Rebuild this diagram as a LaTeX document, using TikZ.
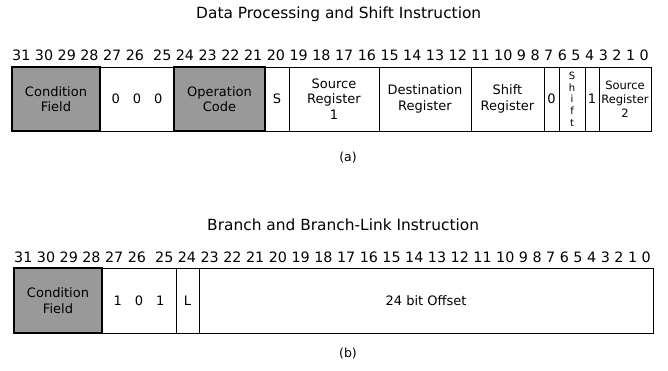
\documentclass[tikz,border=0pt]{standalone}
\usepackage{fontspec}
\setmainfont{DejaVu Sans}
\begin{document}
\begin{tikzpicture}[x=1pt,y=1pt,
  fld/.style={draw=black, line width=0.8pt, fill=white, minimum height=64pt, inner sep=0pt, align=center,
    font=\fontsize{13}{15.5}\selectfont},
  grayfld/.style={fld, fill=gray!80, line width=1.3pt},
  bfld/.style={fld, minimum height=65pt},
  bgrayfld/.style={grayfld, minimum height=65pt},
  bits/.style={anchor=west, inner sep=0pt, font=\fontsize{14.3}{16}\selectfont},
  ttl/.style={anchor=west, inner sep=0pt, font=\fontsize{15.4}{18}\selectfont},
  captxt/.style={inner sep=0pt, font=\fontsize{12.5}{14}\selectfont}]
\useasboundingbox (0,0) rectangle (668,370);
% ---------- (a) ----------
\node[ttl] (t1) at (196,356) {Data Processing and Shift Instruction};
\node[bits] (n1) at (12,315) {31 30 29 28 27 26 \ 25 24 23 22 21 20 19 18 17 16 15 14 13 12 11 10 9 8 7 6 5 4 3 2 1 0};
\node[fld, minimum width=74pt] (z) at (137,271) {0\quad 0\quad 0};
\node[fld, minimum width=24pt] (s) at (277,271) {S};
\node[fld, minimum width=90pt] (sr1) at (334,271) {Source\\Register\\1};
\node[fld, minimum width=92pt] (dr) at (425,271) {Destination\\Register};
\node[fld, minimum width=73pt] (shr) at (507.5,271) {Shift\\Register};
\node[fld, minimum width=15pt] (z0) at (551.5,271) {0};
\node[fld, minimum width=26pt, font=\fontsize{10}{11.7}\selectfont] (sh) at (572,271) {S\\h\\i\\f\\t};
\node[fld, minimum width=14pt] (one) at (592,271) {1};
\node[fld, minimum width=52pt, font=\fontsize{11.5}{14}\selectfont] (sr2) at (625,271) {Source\\Register\\2};
\node[grayfld, minimum width=88pt] (cf) at (56,271) {Condition\\Field};
\node[grayfld, minimum width=91pt] (op) at (219.5,271) {Operation\\Code};
\node[captxt] (ca) at (348,212) {(a)};
% ---------- (b) ----------
\node[ttl] (t2) at (207,145) {Branch and Branch-Link Instruction};
\node[bits] (n2) at (14,113) {31 30 29 28 27 26 \ 25 24 23 22 21 20 19 18 17 16 15 14 13 12 11 10 9 8 7 6 5 4 3 2 1 0};
\node[bfld, minimum width=74pt] (b101) at (139,69.5) {1\quad 0\quad 1};
\node[bfld, minimum width=23pt] (l) at (187.5,69.5) {L};
\node[bfld, minimum width=454pt] (off) at (426,69.5) {24 bit Offset};
\node[bgrayfld, minimum width=88pt] (cf2) at (58,69.5) {Condition\\Field};
\node[captxt] (cb) at (348,16) {(b)};
\end{tikzpicture}
\end{document}
